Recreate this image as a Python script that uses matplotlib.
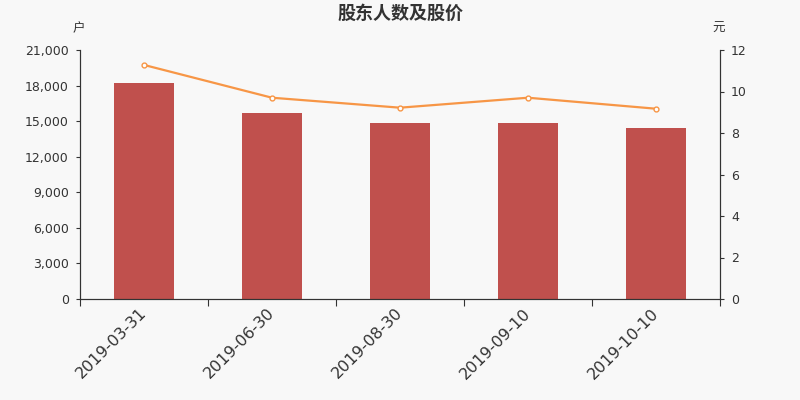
import numpy as np
import matplotlib.pyplot as plt
import matplotlib.transforms as mtransforms
from matplotlib.ticker import FuncFormatter, FixedLocator

plt.rcParams['font.family'] = ['DejaVu Sans', 'Noto Sans CJK SC']

# 数据
dates = ['2019-03-31', '2019-06-30', '2019-08-30', '2019-09-10', '2019-10-10']
holders = [18200, 15700, 14850, 14820, 14420]
prices = [11.28, 9.70, 9.22, 9.70, 9.17]

bg = '#f8f8f8'
fig = plt.figure(figsize=(8, 4), dpi=100, facecolor=bg)
ax = fig.add_axes([0.1, 0.2525, 0.8, 0.6225], facecolor=bg)

x = np.arange(len(dates))
ax.bar(x, holders, width=0.47, color='#c0504d', zorder=2)
ax.set_xlim(-0.5, len(dates) - 0.5)
ax.set_ylim(0, 21000)
ax.set_yticks(np.arange(0, 21001, 3000))
ax.yaxis.set_major_formatter(FuncFormatter(lambda v, p: f'{int(v):,}'))

# x 轴刻度在类别之间，标签在中间
ax.xaxis.set_major_locator(FixedLocator(np.arange(-0.5, len(dates), 1)))
ax.xaxis.set_major_formatter(FuncFormatter(lambda v, p: ''))
ax.xaxis.set_minor_locator(FixedLocator(x))
labels = ax.set_xticklabels(dates, minor=True, rotation=45, ha='right', va='center',
                            rotation_mode='anchor', fontsize=11.5, color='#333333')
shift = mtransforms.ScaledTranslation(-2 / 100, 0, fig.dpi_scale_trans)
for lb in labels:
    lb.set_transform(lb.get_transform() + shift)
ax.tick_params(axis='x', which='minor', length=0, pad=8.5)
ax.tick_params(axis='x', which='major', length=5, color='#333333')
ax.tick_params(axis='y', length=3, pad=5, labelsize=9, colors='#333333')

ax2 = ax.twinx()
ax2.plot(x, prices, color='#f79646', lw=1.6, marker='o', ms=3.5,
         mfc='white', mec='#f79646', mew=1, zorder=3)
ax2.set_ylim(0, 12)
ax2.set_yticks(np.arange(0, 13, 2))
ax2.tick_params(axis='y', length=3, pad=5, labelsize=9, colors='#333333')

for a in (ax, ax2):
    a.spines['top'].set_visible(False)
    for s in ('left', 'right', 'bottom'):
        a.spines[s].set_color('#333333')

fig.text(0.5, 0.967, '股东人数及股价', ha='center', va='center', fontsize=13,
         fontweight='bold', color='#333333', family='Noto Sans CJK SC')
fig.text(0.098, 0.928, '户', ha='center', va='center', fontsize=9, color='#333333',
         family='Noto Sans CJK SC')
fig.text(0.898, 0.928, '元', ha='center', va='center', fontsize=9, color='#333333',
         family='Noto Sans CJK SC')

fig.savefig('out.png', dpi=100, facecolor=bg)
